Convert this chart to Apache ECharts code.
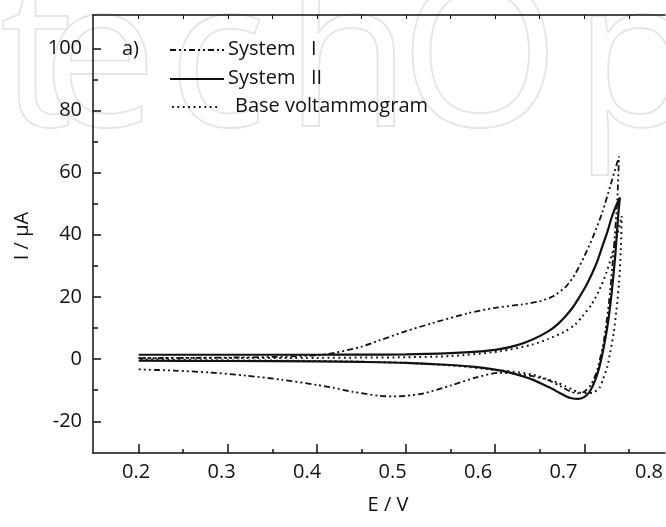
<!DOCTYPE html>
<html>
<head>
<meta charset="utf-8">
<script src="https://cdn.jsdelivr.net/npm/echarts@6/dist/echarts.min.js"></script>
<style>
  html, body { margin: 0; padding: 0; background: #fff; }
  #chart { width: 666px; height: 527px; }
</style>
</head>
<body>
<div id="chart"></div>
<script>
// Cyclic voltammograms: forward scan (0.2 V -> vertex) followed by reverse scan back to 0.2 V.
const sys1Potential = [
  0.20, 0.25, 0.30, 0.35, 0.40, 0.42, 0.45, 0.47, 0.50, 0.53, 0.57, 0.60, 0.63, 0.65, 0.665, 0.68, 0.69, 0.70, 0.71, 0.72, 0.73, 0.739,
  0.737, 0.733, 0.728, 0.722, 0.715, 0.708, 0.700, 0.692, 0.685, 0.675, 0.66, 0.642, 0.62, 0.605, 0.58, 0.55, 0.52, 0.50, 0.485, 0.47, 0.44, 0.418, 0.40, 0.36, 0.32, 0.28, 0.24, 0.20
];
const sys1Current = [
  0.3, 0.4, 0.5, 0.7, 1.2, 2.0, 4.0, 6.0, 9.0, 11.6, 14.8, 16.5, 17.6, 18.6, 20.2, 23.5, 27.5, 33.0, 39.5, 47.0, 56.5, 65.2,
  51.0, 35.0, 19.0, 6.0, -3.0, -8.0, -10.5, -11.0, -10.5, -9.0, -6.8, -5.5, -4.6, -4.4, -5.8, -8.5, -11.0, -11.8, -12.0, -11.8, -10.5, -9.2, -8.3, -6.6, -5.3, -4.3, -3.7, -3.3
];

const sys2Potential = [
  0.20, 0.30, 0.40, 0.45, 0.50, 0.55, 0.58, 0.605, 0.625, 0.642, 0.66, 0.67, 0.679, 0.687, 0.694, 0.702, 0.709, 0.715, 0.72, 0.726, 0.731, 0.736, 0.740,
  0.738, 0.735, 0.731, 0.727, 0.722, 0.717, 0.712, 0.707, 0.702, 0.697, 0.692, 0.686, 0.68, 0.672, 0.66, 0.642, 0.62, 0.605, 0.58, 0.55, 0.50, 0.45, 0.40, 0.30, 0.20
];
const sys2Current = [
  1.4, 1.4, 1.4, 1.45, 1.5, 1.9, 2.4, 3.2, 4.5, 6.3, 9.0, 11.2, 13.8, 16.6, 19.7, 23.6, 27.7, 31.8, 36.0, 41.0, 45.8, 49.5, 52.0,
  46.0, 34.0, 22.0, 12.5, 4.0, -2.5, -7.0, -10.0, -11.8, -12.6, -12.8, -12.6, -12.0, -10.8, -9.0, -6.6, -4.6, -3.6, -2.6, -1.9, -1.2, -0.9, -0.7, -0.6, -0.5
];

const basePotential = [
  0.20, 0.30, 0.40, 0.45, 0.50, 0.55, 0.605, 0.642, 0.66, 0.679, 0.69, 0.698, 0.708, 0.717, 0.725, 0.731, 0.737, 0.742,
  0.741, 0.739, 0.736, 0.733, 0.729, 0.726, 0.721, 0.717, 0.711, 0.705, 0.699, 0.694, 0.686, 0.679, 0.67, 0.66, 0.642, 0.62, 0.605, 0.55, 0.50, 0.40, 0.30, 0.20
];
const baseCurrent = [
  0.4, 0.4, 0.4, 0.5, 0.6, 1.0, 2.5, 4.7, 6.5, 9.0, 11.2, 13.8, 17.5, 22.3, 28.0, 33.5, 40.0, 46.0,
  35.0, 24.5, 15.5, 8.4, 2.0, -2.3, -6.5, -9.3, -10.6, -10.9, -10.9, -10.7, -9.7, -8.7, -7.6, -6.6, -5.0, -4.0, -3.6, -2.0, -1.2, -0.6, -0.4, -0.2
];

const seriesNames = ['System   I', 'System   II', 'Base voltammogram'];
const xTickLabels = [0.2, 0.3, 0.4, 0.5, 0.6, 0.7, 0.8];
const xMajorTicks = [0.2, 0.3, 0.4, 0.5, 0.6, 0.7];
const xMinorTicks = [0.25, 0.35, 0.45, 0.55, 0.65, 0.75];
const xTopTicks = [0.2, 0.25, 0.3, 0.35, 0.4, 0.45, 0.5, 0.55, 0.6, 0.65, 0.7, 0.75];
const yTickLabels = [-20, 0, 20, 40, 60, 80, 100];
const yMinorTicks = [-10, 10, 30, 50, 70, 90];

const pair = (xs, ys) => xs.map((x, i) => [x, ys[i]]);

const FONT = '"Open Sans", "Noto Sans", sans-serif';
const INK = '#111111';
const X_MIN = 0.1488, X_MAX = 0.7905;
const Y_MIN = -30.2, Y_MAX = 110.7;

const dashDotDot = [6, 3, 2, 3, 2, 3];
const dotted = [1.8, 3.6];

const chart = echarts.init(document.getElementById('chart'), null, { renderer: 'canvas' });

chart.setOption({
  animation: false,
  backgroundColor: '#ffffff',
  grid: { left: 93, top: 15, right: 0, bottom: 74, containLabel: false },
  xAxis: [
    { // bottom axis line + major ticks
      type: 'value', min: X_MIN, max: X_MAX, position: 'bottom',
      axisLine: { show: true, onZero: false, lineStyle: { color: INK, width: 1.5 } },
      axisTick: { show: true, inside: true, length: 9, customValues: xMajorTicks, lineStyle: { color: INK, width: 1.5 } },
      axisLabel: { show: false },
      splitLine: { show: false }
    },
    { // bottom minor ticks
      type: 'value', min: X_MIN, max: X_MAX, position: 'bottom',
      axisLine: { show: false, onZero: false },
      axisTick: { show: true, inside: true, length: 4, customValues: xMinorTicks, lineStyle: { color: INK, width: 1.5 } },
      axisLabel: { show: false },
      splitLine: { show: false }
    },
    { // top frame line with small ticks
      type: 'value', min: X_MIN, max: X_MAX, position: 'top',
      axisLine: { show: true, onZero: false, lineStyle: { color: INK, width: 1.5 } },
      axisTick: { show: true, inside: true, length: 4, customValues: xTopTicks, lineStyle: { color: INK, width: 1 } },
      axisLabel: { show: false },
      splitLine: { show: false }
    },
    { // tick label row of the potential axis
      type: 'value', min: 0.1495, max: 0.8187, position: 'bottom',
      axisLine: { show: false, onZero: false },
      axisTick: { show: false },
      splitLine: { show: false },
      axisLabel: {
        show: true, customValues: xTickLabels, margin: 9,
        color: INK, fontFamily: FONT, fontSize: 20,
        formatter: v => v.toFixed(1)
      }
    }
  ],
  yAxis: [
    {
      type: 'value', min: Y_MIN, max: Y_MAX, position: 'left',
      axisLine: { show: true, onZero: false, lineStyle: { color: INK, width: 1.5 } },
      axisTick: { show: true, inside: true, length: 8, customValues: yTickLabels, lineStyle: { color: INK, width: 1.5 } },
      axisLabel: {
        show: true, customValues: yTickLabels, margin: 11,
        color: INK, fontFamily: FONT, fontSize: 20
      },
      splitLine: { show: false }
    },
    {
      type: 'value', min: Y_MIN, max: Y_MAX, position: 'left',
      axisLine: { show: false, onZero: false },
      axisTick: { show: true, inside: true, length: 5, customValues: yMinorTicks, lineStyle: { color: INK, width: 1.5 } },
      axisLabel: { show: false },
      splitLine: { show: false }
    }
  ],
  series: [
    {
      name: seriesNames[0], type: 'line', xAxisIndex: 0, yAxisIndex: 0,
      data: pair(sys1Potential, sys1Current),
      showSymbol: false, smooth: 0.25, clip: true, z: 3,
      lineStyle: { color: INK, width: 1.8, type: dashDotDot }
    },
    {
      name: seriesNames[1], type: 'line', xAxisIndex: 0, yAxisIndex: 0,
      data: pair(sys2Potential, sys2Current),
      showSymbol: false, smooth: 0.25, clip: true, z: 4,
      lineStyle: { color: INK, width: 2.2, type: 'solid' }
    },
    {
      name: seriesNames[2], type: 'line', xAxisIndex: 0, yAxisIndex: 0,
      data: pair(basePotential, baseCurrent),
      showSymbol: false, smooth: 0.25, clip: true, z: 3,
      lineStyle: { color: INK, width: 2, type: dotted }
    }
  ],
  graphic: [
    // faint publisher mark behind the plot
    {
      type: 'group', z: -10, silent: true,
      children: [
        ['t', 0], ['e', 42], ['c', 168], ['h', 285], ['O', 400], ['p', 574]
      ].map(([ch, x]) => ({
        type: 'text', x: x, y: 170, z: -10,
        style: {
          text: ch, fill: 'rgba(0,0,0,0)', stroke: '#e6e6e6', lineWidth: 1.8,
          font: '205px "Open Sans", sans-serif', textVerticalAlign: 'bottom'
        }
      }))
    },
    // axis titles
    {
      type: 'text', x: 388, y: 505,
      style: { text: 'E / V', fill: INK, font: '20px ' + FONT, textAlign: 'center', textVerticalAlign: 'middle' }
    },
    {
      type: 'text', x: 22, y: 236, rotation: Math.PI / 2,
      style: { text: 'I / μA', fill: INK, font: '20px ' + FONT, textAlign: 'center', textVerticalAlign: 'middle' }
    },
    // panel tag and legend
    {
      type: 'text', x: 122, y: 49,
      style: { text: 'a)', fill: INK, font: '20px ' + FONT, textVerticalAlign: 'middle' }
    },
    {
      type: 'line', shape: { x1: 170, y1: 50, x2: 224, y2: 50 },
      style: { stroke: INK, lineWidth: 1.8, lineDash: dashDotDot }
    },
    {
      type: 'text', x: 228, y: 49,
      style: { text: seriesNames[0], fill: INK, font: '20px ' + FONT, textVerticalAlign: 'middle' }
    },
    {
      type: 'line', shape: { x1: 170, y1: 79, x2: 224, y2: 79 },
      style: { stroke: INK, lineWidth: 2 }
    },
    {
      type: 'text', x: 228, y: 78,
      style: { text: seriesNames[1], fill: INK, font: '20px ' + FONT, textVerticalAlign: 'middle' }
    },
    {
      type: 'line', shape: { x1: 172, y1: 107, x2: 218, y2: 107 },
      style: { stroke: INK, lineWidth: 2, lineDash: dotted }
    },
    {
      type: 'text', x: 235, y: 106,
      style: { text: seriesNames[2], fill: INK, font: '20px ' + FONT, textVerticalAlign: 'middle' }
    }
  ]
});
</script>
</body>
</html>
